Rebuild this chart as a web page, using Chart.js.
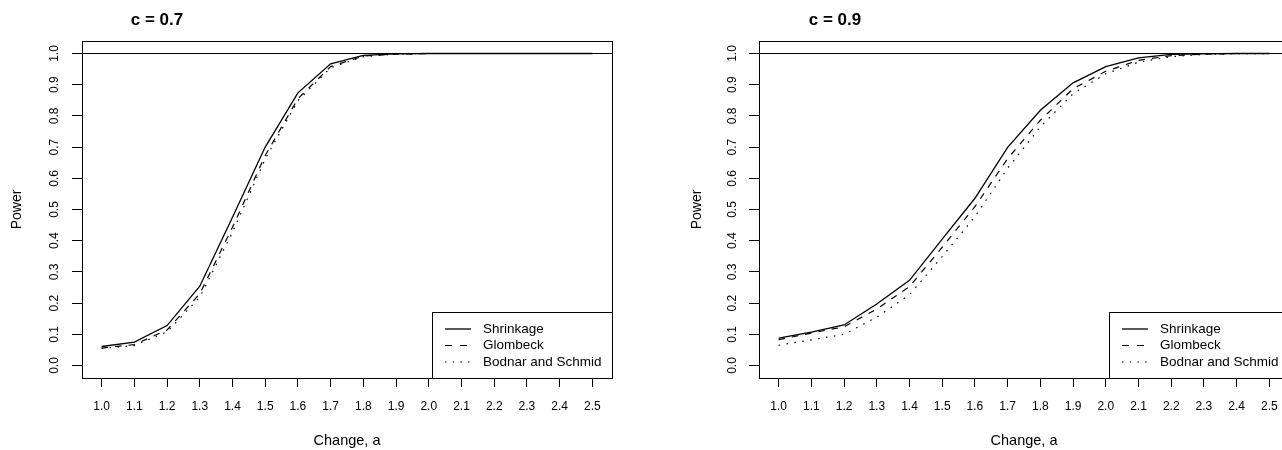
<!DOCTYPE html>
<html>
<head>
<meta charset="utf-8">
<script src="https://cdn.jsdelivr.net/npm/chart.js@4"></script>
<style>
  body { margin: 0; background: #fff; overflow: hidden; }
  #wrap { position: relative; width: 1282px; height: 450px; overflow: hidden; background: #fff; }
  canvas { position: absolute; top: 0; }
</style>
</head>
<body>
<div id="wrap">
  <canvas id="left" width="641" height="450" style="left:0px"></canvas>
  <canvas id="right" width="700" height="450" style="left:641px"></canvas>
</div>
<script>
// change values a (x axis)
const changeA = [1.0, 1.1, 1.2, 1.3, 1.4, 1.5, 1.6, 1.7, 1.8, 1.9, 2.0, 2.1, 2.2, 2.3, 2.4, 2.5];
const yTicks = [0.0, 0.1, 0.2, 0.3, 0.4, 0.5, 0.6, 0.7, 0.8, 0.9, 1.0];
const seriesNames = ["Shrinkage", "Glombeck", "Bodnar and Schmid"];

// c = 0.7
const shrink07 = [0.061, 0.075, 0.128, 0.254, 0.475, 0.700, 0.874, 0.967, 0.994, 0.999, 1.0, 1.0, 1.0, 1.0, 1.0, 1.0];
const glomb07  = [0.056, 0.067, 0.114, 0.230, 0.443, 0.673, 0.855, 0.958, 0.992, 0.998, 1.0, 1.0, 1.0, 1.0, 1.0, 1.0];
const bodnar07 = [0.055, 0.064, 0.108, 0.219, 0.427, 0.662, 0.849, 0.954, 0.990, 0.998, 1.0, 1.0, 1.0, 1.0, 1.0, 1.0];

// c = 0.9
const shrink09 = [0.088, 0.107, 0.130, 0.197, 0.273, 0.405, 0.536, 0.699, 0.818, 0.906, 0.958, 0.986, 0.997, 0.999, 1.0, 1.0];
const glomb09  = [0.083, 0.104, 0.124, 0.181, 0.253, 0.379, 0.509, 0.663, 0.786, 0.887, 0.943, 0.978, 0.993, 0.998, 1.0, 1.0];
const bodnar09 = [0.065, 0.082, 0.100, 0.155, 0.227, 0.349, 0.477, 0.632, 0.765, 0.871, 0.935, 0.972, 0.990, 0.997, 0.999, 1.0];

const FONT = "'Liberation Sans', Arial, Helvetica, sans-serif";
const dashes = [[], [6.5, 7], [1.5, 6.5]];
const legendDashes = [[], [7, 8], [1.5, 6.2]];

// extra drawing: box, abline at 1, rotated y labels, main title, legend
const rDecor = {
  id: "rDecor",
  afterDatasetsDraw(chart, args, opts) {
    const ctx = chart.ctx;
    const ca = chart.chartArea;
    const ys = chart.scales.y;
    ctx.save();
    // abline h = 1
    const y1 = Math.round(ys.getPixelForValue(1)) + 0.5;
    ctx.strokeStyle = "#000";
    ctx.lineWidth = 1;
    ctx.setLineDash([]);
    ctx.beginPath();
    ctx.moveTo(ca.left, y1);
    ctx.lineTo(ca.right, y1);
    ctx.stroke();

    // y tick labels, rotated like R's las = 0
    ctx.fillStyle = "#000";
    ctx.font = "12px " + FONT;
    ctx.textAlign = "center";
    ctx.textBaseline = "middle";
    yTicks.forEach(v => {
      const py = ys.getPixelForValue(v);
      ctx.save();
      ctx.translate(opts.yLabelX, py);
      ctx.rotate(-Math.PI / 2);
      ctx.fillText(v.toFixed(1), 0, 0);
      ctx.restore();
    });

    // main title
    ctx.font = "bold 17px " + FONT;
    ctx.fillText(opts.title, opts.titleX, 20);

    // legend, bottom right
    const lx = ca.right - 180, ly = ca.bottom - 66;
    ctx.fillStyle = "#fff";
    ctx.fillRect(lx, ly, 180, 66);
    ctx.strokeStyle = "#000";
    ctx.strokeRect(Math.round(lx) + 0.5, Math.round(ly) + 0.5, 180, 66);
    ctx.font = "13.5px " + FONT;
    ctx.textAlign = "left";
    ctx.fillStyle = "#000";
    chart.data.datasets.forEach((ds, i) => {
      const ry = ca.bottom - 49 + i * 16.5;
      ctx.setLineDash(legendDashes[i]);
      ctx.lineWidth = ds.borderWidth;
      ctx.beginPath();
      ctx.moveTo(lx + 13, ry);
      ctx.lineTo(lx + 39, ry);
      ctx.stroke();
      ctx.setLineDash([]);
      ctx.fillText(ds.label, lx + 51, ry);
    });

    // plot box
    ctx.lineWidth = 1;
    ctx.strokeRect(Math.round(ca.left) + 0.5, Math.round(ca.top) + 0.5,
      Math.round(ca.right - ca.left), Math.round(ca.bottom - ca.top));
    ctx.restore();
  }
};

function makePlot(id, series, o) {
  const datasets = series.map((vals, i) => ({
    label: seriesNames[i],
    data: changeA.map((a, k) => ({ x: a, y: vals[k] })),
    borderColor: "#000",
    borderWidth: i === 0 ? 1.3 : 1.2,
    borderDash: dashes[i],
    pointRadius: 0,
    tension: 0,
    fill: false
  }));
  return new Chart(document.getElementById(id), {
    type: "line",
    data: { datasets },
    plugins: [rDecor],
    options: {
      responsive: false,
      animation: false,
      devicePixelRatio: 1,
      layout: { padding: { top: 41, bottom: 0, left: 0, right: o.padRight } },
      plugins: {
        legend: { display: false },
        tooltip: { enabled: false },
        rDecor: { title: o.title, titleX: o.titleX, yLabelX: o.yLabelX }
      },
      scales: {
        x: {
          type: "linear",
          min: 0.94,
          max: 2.56,
          afterBuildTicks: s => { s.ticks = changeA.map(v => ({ value: v })); },
          afterFit: s => { s.height = 72; },
          ticks: {
            autoSkip: false,
            maxRotation: 0,
            padding: 12,
            color: "#000",
            font: { size: 12, family: FONT },
            callback: v => v.toFixed(1)
          },
          grid: { drawOnChartArea: false, tickLength: 9, color: "#000" },
          border: { display: true, color: "#000" },
          title: {
            display: true,
            text: "Change, a",
            color: "#000",
            font: { size: 14.5, family: FONT },
            padding: { top: 1, bottom: 0 }
          }
        },
        y: {
          type: "linear",
          min: -0.04,
          max: 1.04,
          afterBuildTicks: s => { s.ticks = yTicks.map(v => ({ value: v })); },
          afterFit: s => { s.width = o.yWidth; },
          ticks: { display: false },
          grid: { drawOnChartArea: false, tickLength: 10, color: "#000" },
          border: { display: true, color: "#000" },
          title: {
            display: true,
            text: "Power",
            color: "#000",
            font: { size: 14, family: FONT },
            padding: { top: o.powerPad, bottom: 0 }
          }
        }
      }
    }
  });
}

makePlot("left", [shrink07, glomb07, bodnar07],
  { title: "c = 0.7", titleX: 157, yLabelX: 55, yWidth: 82, padRight: 29, powerPad: 9 });
makePlot("right", [shrink09, glomb09, bodnar09],
  { title: "c = 0.9", titleX: 194, yLabelX: 92, yWidth: 118, padRight: 52, powerPad: 48 });
</script>
</body>
</html>
